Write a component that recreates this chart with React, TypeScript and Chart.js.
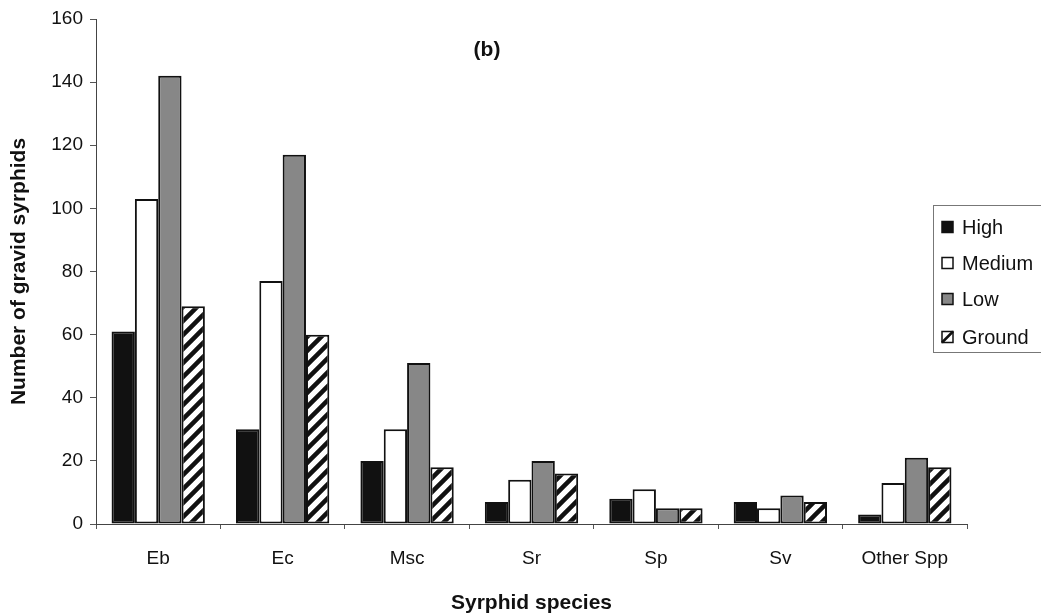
import { useEffect, useRef } from "react";
import { Chart, registerables } from "chart.js";

Chart.register(...registerables);

// Gravid syrphids counted per species at each trap height
const species = ["Eb", "Ec", "Msc", "Sr", "Sp", "Sv", "Other Spp"];
const seriesNames = ["High", "Medium", "Low", "Ground"];
const high = [61, 30, 20, 7, 8, 7, 3];
const medium = [103, 77, 30, 14, 11, 5, 13];
const low = [142, 117, 51, 20, 5, 9, 21];
const ground = [69, 60, 18, 16, 5, 7, 18];
const yMin = 0;
const yMax = 160;
const yStep = 20;
const panelLabel = "(b)";
const xTitle = "Syrphid species";
const yTitle = "Number of gravid syrphids";

const FONT = "Arial, 'Liberation Sans', Helvetica, sans-serif";
const W = 1041;
const H = 616;

function makeHatch(): CanvasPattern | string {
  const s = 14;
  const c = document.createElement("canvas");
  c.width = s;
  c.height = s;
  const g = c.getContext("2d");
  if (!g) return "#ffffff";
  g.fillStyle = "#ffffff";
  g.fillRect(0, 0, s, s);
  g.strokeStyle = "#111111";
  g.lineWidth = 4.5;
  g.lineCap = "square";
  g.beginPath();
  g.moveTo(0, s);
  g.lineTo(s, 0);
  g.moveTo(-s / 2, s / 2);
  g.lineTo(s / 2, -s / 2);
  g.moveTo(s / 2, (3 * s) / 2);
  g.lineTo((3 * s) / 2, s / 2);
  g.stroke();
  const p = g.createPattern(c, "repeat");
  return p || "#ffffff";
}

export default function App() {
  const canvasRef = useRef<HTMLCanvasElement | null>(null);

  useEffect(() => {
    const canvas = canvasRef.current;
    if (!canvas) return;
    const hatch = makeHatch();

    const fills: (string | CanvasPattern)[] = ["#111111", "#ffffff", "#878787", hatch];
    const values = [high, medium, low, ground];

    // Boxed legend on the right and the panel letter
    const annotations = {
      id: "panelExtras",
      afterDraw(chart: Chart) {
        const ctx = chart.ctx;
        ctx.save();
        // panel letter
        ctx.fillStyle = "#111111";
        ctx.font = `bold 21px ${FONT}`;
        ctx.textAlign = "center";
        ctx.textBaseline = "middle";
        ctx.fillText(panelLabel, 487, 50);

        // legend box
        const bx = 933.5;
        const by = 205.5;
        ctx.fillStyle = "#ffffff";
        ctx.fillRect(bx, by, 120, 147);
        ctx.strokeStyle = "#777777";
        ctx.lineWidth = 1;
        ctx.strokeRect(bx, by, 120, 147);

        const rowY = [227, 263, 299, 337];
        ctx.font = `20px ${FONT}`;
        ctx.textAlign = "left";
        ctx.textBaseline = "middle";
        seriesNames.forEach((name, i) => {
          const cy = rowY[i];
          const sx = 942;
          const sz = 11;
          const sy = cy - sz / 2;
          ctx.fillStyle = i === 3 ? "#ffffff" : (fills[i] as string);
          ctx.fillRect(sx, sy, sz, sz);
          if (i === 3) {
            ctx.strokeStyle = "#111111";
            ctx.lineWidth = 2.5;
            ctx.beginPath();
            ctx.moveTo(sx, sy + sz);
            ctx.lineTo(sx + sz, sy);
            ctx.stroke();
          }
          ctx.strokeStyle = "#111111";
          ctx.lineWidth = 1.5;
          ctx.strokeRect(sx, sy, sz, sz);
          ctx.fillStyle = "#111111";
          ctx.fillText(name, 962, cy + 1);
        });
        ctx.restore();
      },
    };

    const chart = new Chart(canvas, {
      type: "bar",
      data: {
        labels: species,
        datasets: seriesNames.map((name, i) => ({
          label: name,
          data: values[i],
          backgroundColor: fills[i],
          borderColor: "#111111",
          borderWidth: 2,
          borderSkipped: false,
          categoryPercentage: 0.75,
          barPercentage: 1.0,
        })),
      },
      options: {
        responsive: false,
        animation: false,
        devicePixelRatio: 1,
        layout: { padding: { left: 0, right: W - 967, top: 19, bottom: 0 } },
        plugins: {
          legend: { display: false },
          tooltip: { enabled: false },
        },
        scales: {
          x: {
            grid: {
              display: true,
              drawOnChartArea: false,
              drawTicks: true,
              tickLength: 5,
              color: "#555555",
              offset: true,
            },
            border: { display: true, color: "#444444", width: 1 },
            ticks: {
              color: "#111111",
              font: { family: FONT, size: 19 },
              padding: 18,
              maxRotation: 0,
            },
            title: {
              display: true,
              text: xTitle,
              color: "#111111",
              font: { family: FONT, size: 21, weight: "bold" },
              padding: { top: 0, bottom: 0 },
            },
            afterFit(scale: any) {
              scale.height = H - 524;
            },
          },
          y: {
            min: yMin,
            max: yMax,
            ticks: {
              stepSize: yStep,
              color: "#111111",
              font: { family: FONT, size: 19 },
              padding: 7,
            },
            grid: {
              display: true,
              drawOnChartArea: false,
              drawTicks: true,
              tickLength: 6,
              color: "#555555",
            },
            border: { display: true, color: "#444444", width: 1 },
            title: {
              display: true,
              text: yTitle,
              color: "#111111",
              font: { family: FONT, size: 21, weight: "bold" },
              padding: { top: 7, bottom: 0 },
            },
            afterFit(scale: any) {
              scale.width = 96;
            },
          },
        },
      },
      plugins: [annotations],
    });

    return () => {
      chart.destroy();
    };
  }, []);

  return (
    <div style={{ position: "absolute", left: 0, top: 0, width: W, height: H, background: "#ffffff" }}>
      <canvas ref={canvasRef} width={W} height={H} style={{ display: "block", width: W, height: H }} />
    </div>
  );
}
